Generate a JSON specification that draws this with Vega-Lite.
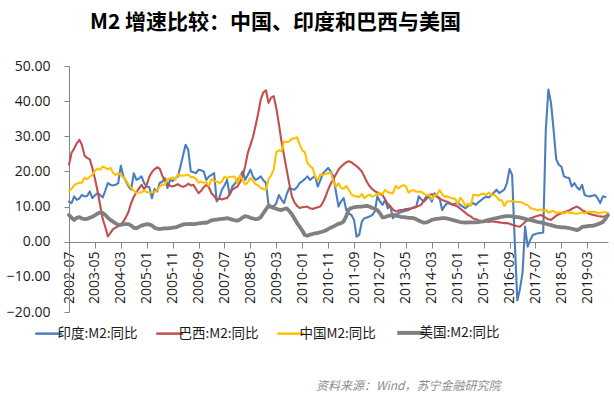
{
"$schema": "https://vega.github.io/schema/vega-lite/v6.json",
"width": 539, "height": 246,
"autosize": {"type": "none"},
"padding": {"left": 69, "top": 66, "right": 6, "bottom": 84},
"background": "white",
"config": {"view": {"stroke": null}},
"title": {"text": "M2 增速比较：中国、印度和巴西与美国", "anchor": "start", "frame": "group", "dx": 21, "offset": 26, "font": "Noto Sans CJK SC", "fontSize": 21, "fontWeight": "bold", "color": "#000000"},
"data": {"values": [
{"d":"2002-07","in":11.4,"br":21.9,"cn":14.5,"us":7.6},
{"d":"2002-08","in":11.0,"br":25.3,"cn":15.0,"us":6.8},
{"d":"2002-09","in":12.9,"br":26.5,"cn":16.0,"us":6.2},
{"d":"2002-10","in":11.9,"br":28.0,"cn":16.5,"us":6.8},
{"d":"2002-11","in":12.3,"br":29.0,"cn":16.8,"us":7.0},
{"d":"2002-12","in":13.3,"br":27.5,"cn":16.8,"us":6.6},
{"d":"2003-01","in":12.9,"br":24.5,"cn":18.2,"us":6.4},
{"d":"2003-02","in":13.0,"br":23.8,"cn":17.8,"us":6.5},
{"d":"2003-03","in":14.3,"br":23.5,"cn":18.5,"us":6.8},
{"d":"2003-04","in":12.4,"br":21.0,"cn":19.0,"us":7.1},
{"d":"2003-05","in":13.2,"br":18.0,"cn":20.2,"us":7.5},
{"d":"2003-06","in":13.8,"br":14.5,"cn":20.8,"us":8.0},
{"d":"2003-07","in":13.3,"br":10.5,"cn":20.5,"us":8.3},
{"d":"2003-08","in":12.6,"br":6.5,"cn":21.4,"us":8.2},
{"d":"2003-09","in":14.5,"br":4.2,"cn":21.0,"us":7.6},
{"d":"2003-10","in":16.7,"br":1.5,"cn":20.6,"us":6.8},
{"d":"2003-11","in":16.2,"br":2.5,"cn":21.0,"us":6.2},
{"d":"2003-12","in":16.0,"br":3.6,"cn":19.6,"us":5.7},
{"d":"2004-01","in":16.2,"br":4.0,"cn":19.0,"us":5.2},
{"d":"2004-02","in":16.7,"br":4.4,"cn":19.4,"us":4.8},
{"d":"2004-03","in":21.6,"br":4.8,"cn":19.1,"us":4.8},
{"d":"2004-04","in":18.6,"br":5.8,"cn":18.2,"us":5.0},
{"d":"2004-05","in":17.1,"br":7.0,"cn":17.5,"us":5.0},
{"d":"2004-06","in":15.7,"br":8.6,"cn":16.2,"us":5.0},
{"d":"2004-07","in":14.8,"br":11.0,"cn":15.3,"us":4.6},
{"d":"2004-08","in":19.5,"br":12.8,"cn":14.5,"us":4.0},
{"d":"2004-09","in":17.6,"br":14.0,"cn":13.9,"us":3.8},
{"d":"2004-10","in":18.0,"br":15.2,"cn":14.0,"us":4.2},
{"d":"2004-11","in":18.6,"br":16.2,"cn":14.0,"us":4.6},
{"d":"2004-12","in":16.7,"br":14.9,"cn":14.6,"us":4.8},
{"d":"2005-01","in":15.7,"br":16.2,"cn":14.1,"us":5.0},
{"d":"2005-02","in":15.5,"br":18.5,"cn":14.0,"us":4.9},
{"d":"2005-03","in":12.4,"br":19.8,"cn":14.0,"us":4.6},
{"d":"2005-04","in":15.0,"br":20.6,"cn":14.1,"us":4.0},
{"d":"2005-05","in":14.3,"br":21.2,"cn":14.7,"us":3.7},
{"d":"2005-06","in":16.7,"br":20.8,"cn":15.7,"us":3.6},
{"d":"2005-07","in":17.1,"br":18.8,"cn":16.3,"us":3.7},
{"d":"2005-08","in":18.1,"br":17.3,"cn":16.2,"us":3.8},
{"d":"2005-09","in":15.3,"br":16.6,"cn":17.9,"us":3.8},
{"d":"2005-10","in":17.6,"br":15.9,"cn":18.0,"us":3.9},
{"d":"2005-11","in":17.3,"br":15.7,"cn":18.3,"us":4.0},
{"d":"2005-12","in":18.1,"br":16.0,"cn":17.6,"us":4.1},
{"d":"2006-01","in":18.5,"br":16.4,"cn":19.2,"us":4.3},
{"d":"2006-02","in":21.4,"br":15.9,"cn":18.8,"us":4.6},
{"d":"2006-03","in":24.5,"br":15.6,"cn":18.8,"us":4.9},
{"d":"2006-04","in":27.6,"br":15.9,"cn":18.9,"us":5.0},
{"d":"2006-05","in":26.2,"br":16.5,"cn":19.1,"us":5.0},
{"d":"2006-06","in":20.0,"br":16.0,"cn":18.4,"us":5.1},
{"d":"2006-07","in":19.8,"br":16.2,"cn":18.4,"us":5.0},
{"d":"2006-08","in":19.5,"br":15.0,"cn":17.9,"us":5.1},
{"d":"2006-09","in":20.5,"br":13.8,"cn":16.8,"us":5.2},
{"d":"2006-10","in":20.3,"br":14.5,"cn":17.1,"us":5.3},
{"d":"2006-11","in":20.0,"br":15.5,"cn":16.8,"us":5.4},
{"d":"2006-12","in":17.6,"br":16.2,"cn":16.9,"us":5.4},
{"d":"2007-01","in":18.5,"br":15.5,"cn":15.9,"us":5.7},
{"d":"2007-02","in":19.0,"br":13.8,"cn":17.8,"us":6.1},
{"d":"2007-03","in":19.5,"br":13.0,"cn":17.3,"us":6.2},
{"d":"2007-04","in":11.5,"br":12.0,"cn":17.1,"us":6.3},
{"d":"2007-05","in":12.5,"br":12.2,"cn":16.7,"us":6.4},
{"d":"2007-06","in":14.8,"br":12.0,"cn":17.1,"us":6.5},
{"d":"2007-07","in":16.0,"br":12.3,"cn":18.5,"us":6.6},
{"d":"2007-08","in":17.6,"br":12.4,"cn":18.1,"us":6.7},
{"d":"2007-09","in":13.3,"br":13.5,"cn":18.5,"us":6.5},
{"d":"2007-10","in":15.7,"br":14.8,"cn":18.5,"us":6.3},
{"d":"2007-11","in":16.5,"br":15.3,"cn":18.5,"us":6.1},
{"d":"2007-12","in":17.6,"br":15.7,"cn":16.7,"us":6.0},
{"d":"2008-01","in":18.5,"br":17.0,"cn":18.9,"us":6.3},
{"d":"2008-02","in":20.0,"br":18.6,"cn":17.5,"us":6.9},
{"d":"2008-03","in":17.6,"br":21.5,"cn":16.3,"us":7.3},
{"d":"2008-04","in":19.0,"br":25.3,"cn":16.9,"us":7.1},
{"d":"2008-05","in":20.5,"br":27.5,"cn":18.1,"us":6.8},
{"d":"2008-06","in":18.5,"br":29.8,"cn":17.4,"us":6.6},
{"d":"2008-07","in":17.6,"br":33.0,"cn":16.4,"us":6.4},
{"d":"2008-08","in":18.0,"br":36.5,"cn":16.0,"us":6.5},
{"d":"2008-09","in":18.6,"br":40.5,"cn":15.3,"us":7.0},
{"d":"2008-10","in":17.5,"br":42.5,"cn":15.0,"us":8.1},
{"d":"2008-11","in":16.7,"br":43.1,"cn":14.8,"us":9.2},
{"d":"2008-12","in":10.5,"br":39.5,"cn":17.8,"us":10.2},
{"d":"2009-01","in":10.2,"br":41.0,"cn":18.8,"us":9.9},
{"d":"2009-02","in":10.0,"br":41.4,"cn":20.5,"us":9.6},
{"d":"2009-03","in":11.0,"br":38.0,"cn":25.5,"us":9.4},
{"d":"2009-04","in":13.3,"br":33.5,"cn":26.0,"us":9.1},
{"d":"2009-05","in":12.0,"br":28.5,"cn":25.7,"us":9.0},
{"d":"2009-06","in":11.0,"br":24.5,"cn":28.5,"us":9.3},
{"d":"2009-07","in":13.5,"br":20.5,"cn":28.4,"us":9.5},
{"d":"2009-08","in":15.3,"br":16.5,"cn":28.5,"us":8.8},
{"d":"2009-09","in":15.0,"br":13.0,"cn":29.3,"us":7.8},
{"d":"2009-10","in":14.8,"br":11.2,"cn":29.4,"us":6.6},
{"d":"2009-11","in":15.5,"br":10.2,"cn":29.7,"us":5.3},
{"d":"2009-12","in":16.7,"br":9.6,"cn":27.7,"us":4.3},
{"d":"2010-01","in":17.2,"br":9.8,"cn":26.0,"us":3.2},
{"d":"2010-02","in":17.8,"br":9.9,"cn":25.5,"us":1.9},
{"d":"2010-03","in":18.6,"br":10.0,"cn":22.5,"us":1.7},
{"d":"2010-04","in":17.6,"br":9.5,"cn":21.5,"us":2.0},
{"d":"2010-05","in":18.2,"br":9.3,"cn":21.0,"us":2.2},
{"d":"2010-06","in":18.6,"br":9.6,"cn":18.5,"us":2.4},
{"d":"2010-07","in":15.7,"br":9.8,"cn":17.6,"us":2.5},
{"d":"2010-08","in":17.5,"br":10.0,"cn":19.2,"us":2.7},
{"d":"2010-09","in":19.5,"br":11.2,"cn":19.0,"us":2.9},
{"d":"2010-10","in":20.2,"br":12.8,"cn":19.3,"us":3.2},
{"d":"2010-11","in":21.0,"br":14.8,"cn":19.5,"us":3.6},
{"d":"2010-12","in":20.0,"br":16.5,"cn":19.7,"us":4.0},
{"d":"2011-01","in":18.6,"br":17.8,"cn":17.2,"us":4.3},
{"d":"2011-02","in":14.3,"br":19.2,"cn":15.7,"us":4.7},
{"d":"2011-03","in":10.0,"br":20.5,"cn":16.6,"us":5.1},
{"d":"2011-04","in":11.5,"br":21.4,"cn":15.3,"us":5.3},
{"d":"2011-05","in":12.4,"br":22.0,"cn":15.1,"us":5.8},
{"d":"2011-06","in":9.0,"br":22.6,"cn":15.9,"us":7.3},
{"d":"2011-07","in":8.0,"br":22.9,"cn":14.7,"us":9.2},
{"d":"2011-08","in":7.6,"br":22.6,"cn":13.5,"us":9.6},
{"d":"2011-09","in":6.2,"br":22.0,"cn":13.0,"us":9.8},
{"d":"2011-10","in":1.4,"br":21.5,"cn":12.9,"us":9.9},
{"d":"2011-11","in":2.0,"br":20.8,"cn":12.7,"us":10.0},
{"d":"2011-12","in":5.7,"br":20.0,"cn":13.6,"us":10.0},
{"d":"2012-01","in":6.7,"br":18.5,"cn":12.4,"us":10.1},
{"d":"2012-02","in":6.9,"br":17.0,"cn":13.0,"us":10.2},
{"d":"2012-03","in":7.2,"br":15.8,"cn":13.4,"us":10.0},
{"d":"2012-04","in":7.6,"br":15.0,"cn":12.8,"us":9.6},
{"d":"2012-05","in":8.6,"br":14.4,"cn":13.2,"us":9.4},
{"d":"2012-06","in":12.9,"br":14.0,"cn":13.6,"us":9.0},
{"d":"2012-07","in":11.5,"br":13.6,"cn":13.9,"us":8.1},
{"d":"2012-08","in":10.5,"br":13.3,"cn":13.5,"us":6.9},
{"d":"2012-09","in":11.9,"br":12.0,"cn":14.8,"us":7.0},
{"d":"2012-10","in":9.5,"br":10.8,"cn":14.1,"us":7.3},
{"d":"2012-11","in":10.2,"br":10.0,"cn":13.9,"us":7.5},
{"d":"2012-12","in":6.7,"br":9.2,"cn":13.8,"us":7.6},
{"d":"2013-01","in":7.5,"br":8.6,"cn":15.9,"us":7.5},
{"d":"2013-02","in":8.1,"br":8.8,"cn":15.2,"us":7.3},
{"d":"2013-03","in":8.4,"br":9.0,"cn":15.7,"us":7.1},
{"d":"2013-04","in":8.6,"br":9.1,"cn":16.1,"us":7.0},
{"d":"2013-05","in":8.8,"br":9.3,"cn":15.8,"us":6.9},
{"d":"2013-06","in":9.0,"br":9.4,"cn":14.0,"us":6.8},
{"d":"2013-07","in":9.4,"br":9.5,"cn":14.5,"us":6.8},
{"d":"2013-08","in":9.8,"br":9.6,"cn":14.7,"us":6.7},
{"d":"2013-09","in":10.0,"br":9.9,"cn":14.2,"us":6.4},
{"d":"2013-10","in":12.9,"br":10.2,"cn":14.3,"us":6.0},
{"d":"2013-11","in":12.0,"br":10.6,"cn":14.2,"us":5.7},
{"d":"2013-12","in":11.4,"br":11.8,"cn":13.6,"us":5.4},
{"d":"2014-01","in":12.2,"br":13.0,"cn":13.2,"us":5.5},
{"d":"2014-02","in":12.9,"br":13.3,"cn":13.3,"us":5.8},
{"d":"2014-03","in":11.4,"br":13.5,"cn":12.1,"us":6.2},
{"d":"2014-04","in":13.8,"br":13.3,"cn":13.2,"us":6.4},
{"d":"2014-05","in":13.0,"br":12.8,"cn":13.4,"us":6.5},
{"d":"2014-06","in":12.4,"br":12.2,"cn":14.7,"us":6.6},
{"d":"2014-07","in":9.0,"br":11.9,"cn":13.5,"us":6.7},
{"d":"2014-08","in":10.2,"br":11.6,"cn":12.8,"us":6.7},
{"d":"2014-09","in":11.0,"br":11.4,"cn":12.9,"us":6.6},
{"d":"2014-10","in":10.8,"br":11.0,"cn":12.6,"us":6.4},
{"d":"2014-11","in":10.5,"br":10.6,"cn":12.3,"us":6.2},
{"d":"2014-12","in":10.8,"br":10.3,"cn":12.2,"us":6.0},
{"d":"2015-01","in":11.0,"br":10.0,"cn":10.8,"us":5.8},
{"d":"2015-02","in":10.5,"br":9.4,"cn":12.5,"us":5.6},
{"d":"2015-03","in":10.0,"br":8.8,"cn":11.6,"us":5.5},
{"d":"2015-04","in":9.5,"br":8.2,"cn":10.1,"us":5.4},
{"d":"2015-05","in":10.2,"br":7.6,"cn":10.8,"us":5.5},
{"d":"2015-06","in":10.6,"br":7.2,"cn":10.2,"us":5.5},
{"d":"2015-07","in":11.0,"br":6.6,"cn":13.3,"us":5.5},
{"d":"2015-08","in":10.5,"br":6.4,"cn":13.3,"us":5.5},
{"d":"2015-09","in":11.2,"br":6.1,"cn":13.1,"us":5.6},
{"d":"2015-10","in":11.8,"br":5.9,"cn":13.5,"us":5.7},
{"d":"2015-11","in":12.4,"br":5.7,"cn":13.7,"us":5.8},
{"d":"2015-12","in":12.8,"br":5.8,"cn":13.3,"us":6.0},
{"d":"2016-01","in":12.6,"br":5.6,"cn":14.0,"us":6.2},
{"d":"2016-02","in":13.3,"br":5.8,"cn":13.3,"us":6.4},
{"d":"2016-03","in":14.0,"br":5.7,"cn":13.4,"us":6.6},
{"d":"2016-04","in":14.8,"br":5.6,"cn":12.8,"us":6.7},
{"d":"2016-05","in":13.8,"br":5.5,"cn":11.8,"us":6.9},
{"d":"2016-06","in":14.3,"br":5.4,"cn":11.8,"us":7.1},
{"d":"2016-07","in":14.8,"br":5.3,"cn":10.2,"us":7.2},
{"d":"2016-08","in":16.7,"br":5.3,"cn":11.4,"us":7.3},
{"d":"2016-09","in":20.7,"br":5.1,"cn":11.5,"us":7.3},
{"d":"2016-10","in":19.0,"br":4.8,"cn":11.6,"us":7.2},
{"d":"2016-11","in":0.5,"br":4.6,"cn":11.4,"us":7.1},
{"d":"2016-12","in":-16.7,"br":4.4,"cn":11.3,"us":7.0},
{"d":"2017-01","in":-13.5,"br":4.3,"cn":11.3,"us":6.9},
{"d":"2017-02","in":-9.0,"br":4.9,"cn":11.1,"us":6.7},
{"d":"2017-03","in":4.3,"br":5.6,"cn":10.6,"us":6.5},
{"d":"2017-04","in":-1.4,"br":6.2,"cn":10.5,"us":6.3},
{"d":"2017-05","in":0.5,"br":6.7,"cn":9.6,"us":6.2},
{"d":"2017-06","in":1.9,"br":6.9,"cn":9.4,"us":6.0},
{"d":"2017-07","in":2.2,"br":7.2,"cn":9.2,"us":5.8},
{"d":"2017-08","in":2.4,"br":7.4,"cn":8.9,"us":5.6},
{"d":"2017-09","in":2.5,"br":7.6,"cn":9.2,"us":5.5},
{"d":"2017-10","in":2.6,"br":7.3,"cn":8.8,"us":5.3},
{"d":"2017-11","in":31.9,"br":6.8,"cn":9.1,"us":5.1},
{"d":"2017-12","in":43.3,"br":6.4,"cn":8.2,"us":4.9},
{"d":"2018-01","in":39.5,"br":6.2,"cn":8.6,"us":4.7},
{"d":"2018-02","in":31.9,"br":6.8,"cn":8.8,"us":4.5},
{"d":"2018-03","in":23.5,"br":7.4,"cn":8.2,"us":4.3},
{"d":"2018-04","in":21.9,"br":7.8,"cn":8.3,"us":4.2},
{"d":"2018-05","in":21.4,"br":8.1,"cn":8.3,"us":4.1},
{"d":"2018-06","in":18.6,"br":8.4,"cn":8.0,"us":4.1},
{"d":"2018-07","in":18.3,"br":8.7,"cn":8.5,"us":4.0},
{"d":"2018-08","in":18.1,"br":8.9,"cn":8.2,"us":3.9},
{"d":"2018-09","in":15.7,"br":9.3,"cn":8.3,"us":3.7},
{"d":"2018-10","in":16.7,"br":9.7,"cn":8.0,"us":3.5},
{"d":"2018-11","in":15.5,"br":10.0,"cn":8.0,"us":3.3},
{"d":"2018-12","in":14.8,"br":9.6,"cn":8.1,"us":3.6},
{"d":"2019-01","in":16.2,"br":9.0,"cn":8.4,"us":4.2},
{"d":"2019-02","in":13.3,"br":8.6,"cn":8.0,"us":4.3},
{"d":"2019-03","in":13.0,"br":8.2,"cn":8.6,"us":4.4},
{"d":"2019-04","in":12.9,"br":7.9,"cn":8.5,"us":4.5},
{"d":"2019-05","in":13.1,"br":7.7,"cn":8.5,"us":4.5},
{"d":"2019-06","in":13.3,"br":7.5,"cn":8.5,"us":4.7},
{"d":"2019-07","in":12.4,"br":7.3,"cn":8.1,"us":5.0},
{"d":"2019-08","in":11.0,"br":7.2,"cn":8.2,"us":5.2},
{"d":"2019-09","in":12.9,"br":7.1,"cn":8.4,"us":5.6},
{"d":"2019-10","in":12.7,"br":7.3,"cn":8.4,"us":6.5},
{"d":"2019-11","in":null,"br":7.6,"cn":8.2,"us":7.6}
]},
"transform": [
  {"fold": ["in", "br", "cn", "us"], "as": ["s", "v"]},
  {"filter": "isValid(datum.v)"}
],
"encoding": {
  "x": {"field": "d", "type": "ordinal", "scale": {"type": "point", "padding": 0},
    "axis": {"values": ["2002-07","2003-05","2004-03","2005-01","2005-11","2006-09","2007-07","2008-05","2009-03","2010-01","2010-11","2011-09","2012-07","2013-05","2014-03","2015-01","2015-11","2016-09","2017-07","2018-05","2019-03"],
      "labelAngle": -90, "labelAlign": "right", "labelBaseline": "middle", "offset": -70, "grid": false,
      "domainColor": "#868686", "tickColor": "#868686", "tickSize": 6, "labelPadding": 3,
      "labelFont": "Open Sans", "labelFontSize": 14, "labelColor": "#1a1a1a",
      "title": "资料来源：Wind，苏宁金融研究院", "titleX": 431, "titleY": 147, "titleAlign": "right", "titleBaseline": "alphabetic",
      "titleFont": "Noto Sans CJK SC", "titleFontSize": 12, "titleFontStyle": "italic", "titleFontWeight": "normal", "titleColor": "#8c8c8c"}},
  "y": {"field": "v", "type": "quantitative", "scale": {"domain": [-20, 50], "nice": false, "zero": false},
    "axis": {"values": [-20, -10, 0, 10, 20, 30, 40, 50], "format": ".2f", "grid": false, "title": null,
      "domainColor": "#868686", "tickColor": "#868686", "tickSize": 5, "labelPadding": 14,
      "labelFont": "Open Sans", "labelFontSize": 14, "labelColor": "#1a1a1a"}},
  "color": {"field": "s", "type": "nominal",
    "scale": {"domain": ["in", "br", "cn", "us"], "range": ["#4A7EBF", "#C0504D", "#FFC000", "#808080"]},
    "legend": {"orient": "none", "legendX": -27, "legendY": 260, "direction": "horizontal", "title": null,
      "symbolType": "stroke", "symbolSize": 729, "symbolStrokeWidth": 2.5, "labelFontSize": 13.5,
      "labelFont": "Noto Sans CJK SC", "labelColor": "#1a1a1a", "columnPadding": 13, "labelOffset": 2,
      "labelExpr": "{'in':'印度:M2:同比','br':'巴西:M2:同比','cn':'中国M2:同比','us':'美国:M2:同比'}[datum.label]",
      "encode": {"symbols": {"update": {"strokeWidth": {"signal": "datum.value === 'us' ? 4 : 2.5"}}}}}}
},
"layer": [
  {"transform": [{"filter": "datum.s !== 'us'"}],
   "mark": {"type": "line", "strokeWidth": 2.1, "strokeJoin": "round", "strokeCap": "round"}},
  {"transform": [{"filter": "datum.s === 'us'"}],
   "mark": {"type": "line", "strokeWidth": 3.8, "strokeJoin": "round", "strokeCap": "round"}}
]
}
